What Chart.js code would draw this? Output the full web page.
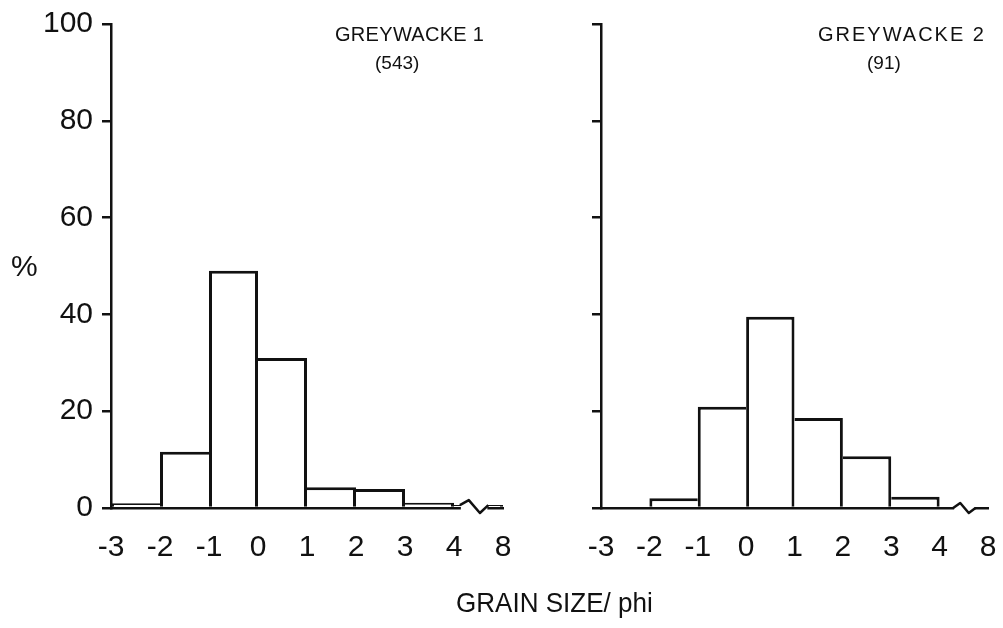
<!DOCTYPE html>
<html>
<head>
<meta charset="utf-8">
<script src="https://cdn.jsdelivr.net/npm/chart.js@4.4.1/dist/chart.umd.min.js"></script>
<style>
  html, body { margin: 0; padding: 0; background: #fff; }
  body { width: 1003px; height: 628px; position: relative; overflow: hidden;
         font-family: "Liberation Sans", Arial, sans-serif; color: #111; }
  canvas { position: absolute; top: 0; }
  .txt { position: absolute; white-space: nowrap; line-height: 1; transform-origin: 0 0; }
</style>
</head>
<body>
<canvas id="left" width="530" height="628" style="left:0"></canvas>
<canvas id="right" width="483" height="628" style="left:520px"></canvas>

<div class="txt" style="left:11px; top:251px; font-size:30px;">%</div>
<div class="txt" style="left:335px; top:24px; font-size:20px; letter-spacing:0.3px;">GREYWACKE 1</div>
<div class="txt" style="left:375px; top:53px; font-size:19px;">(543)</div>
<div class="txt" style="left:818px; top:24px; font-size:20px; letter-spacing:2px;">GREYWACKE 2</div>
<div class="txt" style="left:867px; top:53px; font-size:19px;">(91)</div>
<div class="txt" style="left:456px; top:589px; font-size:28px; transform:scaleX(0.93);">GRAIN SIZE/ phi</div>

<script>
// Bin edges in phi units (the last bin runs from 4 to 8)
const edgeLabels = ['-3', '-2', '-1', '0', '1', '2', '3', '4', '8'];
// Percentage of grains in each bin
const greywacke1 = [1.0, 11.6, 49.0, 31.0, 4.3, 3.9, 1.1, 0.6];
const greywacke2 = [0, 2.0, 20.9, 39.5, 18.6, 10.7, 2.3, 0];
const percentTicks = [0, 20, 40, 60, 80, 100];

const INK = '#111';
const FONT = '"Liberation Sans", Arial, sans-serif';
const EDGE = 3;     // outline thickness of the histogram bars
const AXIS = 2.5;   // axis line thickness

// Zig-zag axis break drawn inside the open-ended 4–8 bin
const axisBreak = {
  id: 'axisBreak',
  afterDatasetsDraw(chart, args, opts) {
    const x = chart.scales.x, y = chart.scales.y, ctx = chart.ctx;
    const lastBin = edgeLabels.length - 2;
    const x0 = x.getPixelForValue(lastBin + opts.from);
    const x1 = x.getPixelForValue(lastBin + opts.to);
    const yBase = y.getPixelForValue(0);
    const yLine = y.getPixelForValue(opts.level);
    const w = x1 - x0;
    ctx.save();
    ctx.fillStyle = '#fff';
    ctx.fillRect(x0, yBase - 9, w, 18);
    ctx.strokeStyle = INK;
    ctx.lineWidth = 2.5;
    ctx.lineJoin = 'round';
    ctx.beginPath();
    ctx.moveTo(x0 - 1, yLine);
    ctx.lineTo(x0 + 0.3 * w, yLine - 5);
    ctx.lineTo(x0 + 0.72 * w, yBase + 5);
    ctx.lineTo(x1 + 1, yLine);
    ctx.stroke();
    ctx.restore();
  }
};

// Each shared vertical edge is drawn once, by the taller of the two bars
function edgeWidths(values) {
  return (ctx) => {
    const i = ctx.dataIndex;
    const h = values[i];
    const prev = i > 0 ? values[i - 1] : 0;
    const next = i < values.length - 1 ? values[i + 1] : 0;
    return {
      top: EDGE,
      bottom: 0,
      left: h >= prev ? EDGE : 0,
      right: h > next ? EDGE : 0
    };
  };
}

function makePanel(canvasId, values, showYLabels, yAxisWidth, padRight, breakOpts) {
  const points = values.map((v, i) => ({ x: i + 0.5, y: v }));
  return new Chart(document.getElementById(canvasId), {
    type: 'bar',
    data: {
      datasets: [{
        data: points,
        backgroundColor: '#fff',
        borderColor: INK,
        borderWidth: edgeWidths(values),
        inflateAmount: 0,
        categoryPercentage: 1,
        barPercentage: 1
      }]
    },
    options: {
      responsive: false,
      animation: false,
      events: [],
      layout: { padding: { top: 24, right: padRight, bottom: 0, left: 0 } },
      plugins: {
        legend: { display: false },
        tooltip: { enabled: false },
        axisBreak: breakOpts
      },
      scales: {
        x: {
          type: 'linear',
          offset: false,
          min: 0,
          max: edgeLabels.length - 1,
          afterBuildTicks(scale) {
            scale.ticks = edgeLabels.map((_, i) => ({ value: i }));
          },
          afterFit(scale) {
            scale.height = 120;
            scale.paddingLeft = 0;
            scale.paddingRight = 0;
          },
          grid: { display: false, drawTicks: false },
          border: { display: true, color: INK, width: AXIS },
          ticks: {
            autoSkip: false,
            maxRotation: 0,
            padding: 22,
            color: INK,
            font: { family: FONT, size: 30 },
            callback: (v) => edgeLabels[v]
          }
        },
        y: {
          min: 0,
          max: 100,
          afterBuildTicks(scale) {
            scale.ticks = percentTicks.map(v => ({ value: v }));
          },
          afterFit(scale) {
            scale.width = yAxisWidth;
            scale.paddingTop = 0;
            scale.paddingBottom = 0;
          },
          grid: {
            display: true,
            drawOnChartArea: false,
            drawTicks: true,
            tickLength: 9,
            color: INK,
            lineWidth: AXIS
          },
          border: { display: true, color: INK, width: AXIS },
          ticks: {
            padding: 9,
            color: INK,
            font: { family: FONT, size: 30 },
            callback: (v) => showYLabels ? String(v) : ''
          }
        }
      }
    },
    plugins: [axisBreak]
  });
}

makePanel('left', greywacke1, true, 111, 27, { from: 0.14, to: 0.68, level: greywacke1[7] });
makePanel('right', greywacke2, false, 81, 15, { from: 0.3, to: 0.72, level: greywacke2[7] });
</script>
</body>
</html>
